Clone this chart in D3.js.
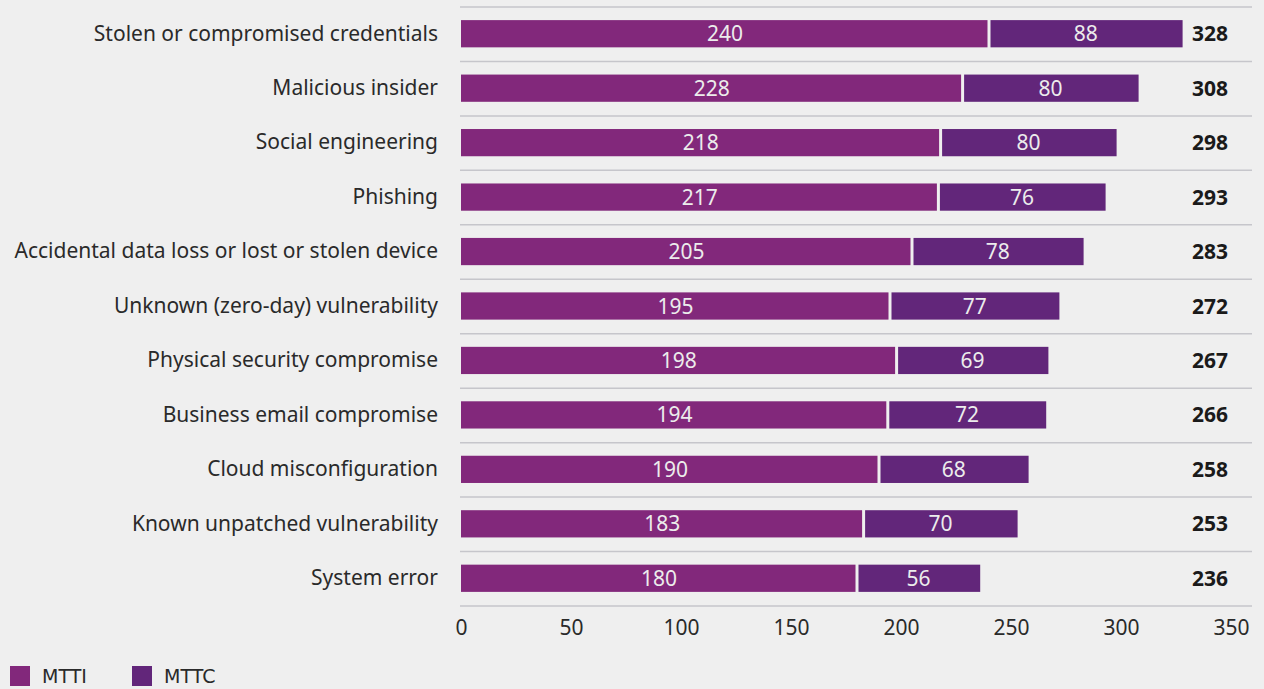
<!DOCTYPE html>
<html>
<head>
<meta charset="utf-8">
<script src="https://cdn.jsdelivr.net/npm/d3@7"></script>
<style>
    body { margin: 0; background: #efefef; }
    svg { display: block; }
</style>
</head>
<body>
<div id="chart"></div>
<script>
// Chart data
var categories = [
    "Stolen or compromised credentials",
    "Malicious insider",
    "Social engineering",
    "Phishing",
    "Accidental data loss or lost or stolen device",
    "Unknown (zero-day) vulnerability",
    "Physical security compromise",
    "Business email compromise",
    "Cloud misconfiguration",
    "Known unpatched vulnerability",
    "System error"
];
var mtti = [240, 228, 218, 217, 205, 195, 198, 194, 190, 183, 180];
var mttc = [88, 80, 80, 76, 78, 77, 69, 72, 68, 70, 56];
var xTicks = [0, 50, 100, 150, 200, 250, 300, 350];
var seriesNames = ["MTTI", "MTTC"];

function init() {
    var w = 1264;
    var h = 689;
    var colors = ["#82287b", "#62267a"];
    var font = "'Noto Sans', 'Open Sans', sans-serif";

    var dataset = categories.map(function (c, i) {
        return { category: c, mtti: mtti[i], mttc: mttc[i], total: mtti[i] + mttc[i] };
    });

    var xScale = d3.scaleLinear()
        .domain([0, 350])
        .range([461, 1231]);

    var yScale = d3.scaleBand()
        .domain(categories)
        .range([7, 606])
        .paddingInner(0);

    var bw = yScale.bandwidth();

    var svg = d3.select("#chart")
        .append("svg")
        .attr("width", w)
        .attr("height", h)
        .style("background", "#efefef");

    // Row separator lines
    var lines = d3.range(categories.length + 1).map(function (i) { return 7 + i * bw; });
    svg.append("g")
        .selectAll("line")
        .data(lines)
        .enter()
        .append("line")
        .attr("x1", 460)
        .attr("x2", 1252)
        .attr("y1", d => d)
        .attr("y2", d => d)
        .attr("stroke", "#c6c6cb")
        .attr("stroke-width", 1.5);

    // Category labels
    svg.append("g")
        .selectAll("text")
        .data(dataset)
        .enter()
        .append("text")
        .attr("x", 438)
        .attr("y", d => yScale(d.category) + bw / 2 - 1)
        .attr("dy", "0.35em")
        .attr("text-anchor", "end")
        .style("font-family", font)
        .style("font-size", "21px")
        .attr("fill", "#2a2a2a")
        .text(d => d.category);

    var barH = bw * 0.5;
    var rows = svg.append("g")
        .selectAll("g")
        .data(dataset)
        .enter()
        .append("g")
        .attr("transform", d => `translate(0, ${yScale(d.category) + bw / 2 - barH / 2 - 0.5})`);

    // MTTI segment
    rows.append("rect")
        .attr("x", xScale(0))
        .attr("width", d => xScale(d.mtti) - xScale(0) - 1.5)
        .attr("height", barH)
        .attr("fill", colors[0]);

    // MTTC segment
    rows.append("rect")
        .attr("x", d => xScale(d.mtti) + 1.5)
        .attr("width", d => xScale(d.total) - xScale(d.mtti) - 1.5)
        .attr("height", barH)
        .attr("fill", colors[1]);

    // Segment value labels
    rows.append("text")
        .attr("x", d => (xScale(0) + xScale(d.mtti)) / 2)
        .attr("y", barH / 2)
        .attr("dy", "0.36em")
        .attr("text-anchor", "middle")
        .style("font-family", font)
        .style("font-size", "21px")
        .attr("fill", "#ececec")
        .text(d => d.mtti);

    rows.append("text")
        .attr("x", d => (xScale(d.mtti) + xScale(d.total)) / 2)
        .attr("y", barH / 2)
        .attr("dy", "0.36em")
        .attr("text-anchor", "middle")
        .style("font-family", font)
        .style("font-size", "21px")
        .attr("fill", "#ececec")
        .text(d => d.mttc);

    // Totals
    rows.append("text")
        .attr("x", 1210)
        .attr("y", barH / 2)
        .attr("dy", "0.36em")
        .attr("text-anchor", "middle")
        .style("font-family", font)
        .style("font-size", "21px")
        .style("font-weight", "bold")
        .attr("fill", "#1a1a1a")
        .text(d => d.total);

    // X axis
    var xAxis = d3.axisBottom(xScale)
        .tickValues(xTicks)
        .tickSize(0)
        .tickPadding(14);

    var axis = svg.append("g")
        .attr("transform", `translate(0, 606)`)
        .call(xAxis);
    axis.select(".domain").remove();
    axis.selectAll("text")
        .style("font-family", font)
        .style("font-size", "21px")
        .attr("fill", "#2a2a2a");

    // Legend
    var legend = svg.append("g")
        .selectAll("g")
        .data(seriesNames)
        .enter()
        .append("g")
        .attr("transform", (d, i) => `translate(${10 + i * 122}, 666)`);

    legend.append("rect")
        .attr("width", 20)
        .attr("height", 20)
        .attr("fill", (d, i) => colors[i]);

    legend.append("text")
        .attr("x", 32)
        .attr("y", 10)
        .attr("dy", "0.36em")
        .style("font-family", "'DejaVu Sans', sans-serif")
        .style("font-size", "19px")
        .attr("fill", "#2a2a2a")
        .text(d => d);
}

window.onload = init;
</script>
</body>
</html>
